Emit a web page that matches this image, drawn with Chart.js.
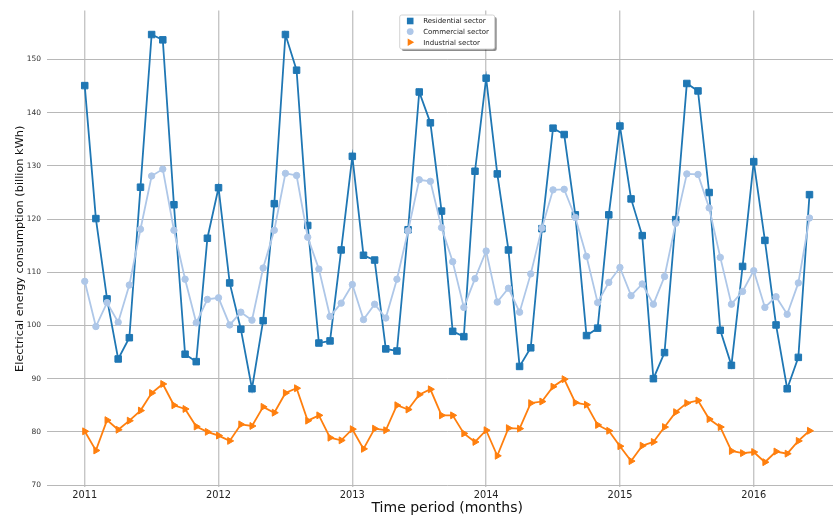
<!DOCTYPE html>
<html>
<head>
<meta charset="utf-8">
<script src="https://cdn.jsdelivr.net/npm/chart.js@4.4.1/dist/chart.umd.min.js"></script>
<style>
  html, body { margin: 0; padding: 0; background: #fff; overflow: hidden; }
  #wrap { width: 833px; height: 519px; overflow: hidden; }
</style>
</head>
<body>
<div id="wrap"><canvas id="line-chart" width="853" height="519"></canvas></div>
<script>
// monthly periods, Jan 2011 .. Jun 2016
const months = [
  '2011-01','2011-02','2011-03','2011-04','2011-05','2011-06','2011-07','2011-08','2011-09','2011-10','2011-11','2011-12',
  '2012-01','2012-02','2012-03','2012-04','2012-05','2012-06','2012-07','2012-08','2012-09','2012-10','2012-11','2012-12',
  '2013-01','2013-02','2013-03','2013-04','2013-05','2013-06','2013-07','2013-08','2013-09','2013-10','2013-11','2013-12',
  '2014-01','2014-02','2014-03','2014-04','2014-05','2014-06','2014-07','2014-08','2014-09','2014-10','2014-11','2014-12',
  '2015-01','2015-02','2015-03','2015-04','2015-05','2015-06','2015-07','2015-08','2015-09','2015-10','2015-11','2015-12',
  '2016-01','2016-02','2016-03','2016-04','2016-05','2016-06'
];

const residential = [
  145.1, 120.1, 105.0, 93.7, 97.7, 126.0, 154.7, 153.7, 122.7, 94.6, 93.2, 116.4,
  125.9, 108.0, 99.3, 88.1, 100.9, 122.9, 154.7, 148.0, 118.8, 96.7, 97.1, 114.2,
  131.8, 113.2, 112.3, 95.6, 95.2, 118.0, 143.9, 138.1, 121.5, 98.9, 97.9, 129.0,
  146.5, 128.5, 114.2, 92.3, 95.8, 118.2, 137.1, 135.9, 120.8, 98.1, 99.5, 120.8,
  137.5, 123.8, 116.9, 90.0, 94.9, 119.9, 145.5, 144.1, 125.0, 99.1, 92.5, 111.1,
  130.8, 116.0, 100.1, 88.1, 94.0, 124.6
];

const commercial = [
  108.3, 99.8, 104.3, 100.6, 107.6, 118.1, 128.1, 129.4, 117.9, 108.7, 100.5, 104.9,
  105.2, 100.1, 102.5, 101.0, 110.8, 117.9, 128.6, 128.2, 116.6, 110.6, 101.7, 104.2,
  107.7, 101.1, 104.0, 101.4, 108.7, 117.8, 127.4, 127.1, 118.4, 112.0, 103.4, 108.8,
  114.0, 104.4, 107.0, 102.5, 109.7, 118.3, 125.5, 125.6, 120.3, 113.0, 104.3, 108.1,
  110.9, 105.6, 107.8, 104.0, 109.2, 119.2, 128.5, 128.4, 122.1, 112.8, 104.0, 106.4,
  110.3, 103.4, 105.4, 102.1, 108.0, 120.2
];

const industrial = [
  80.1, 76.5, 82.2, 80.4, 82.1, 84.0, 87.3, 89.0, 85.0, 84.3, 81.0, 80.0,
  79.3, 78.3, 81.4, 81.1, 84.7, 83.6, 87.3, 88.2, 82.1, 83.1, 78.9, 78.4,
  80.5, 76.8, 80.6, 80.3, 85.0, 84.2, 87.0, 88.0, 83.1, 83.1, 79.7, 78.1,
  80.3, 75.5, 80.7, 80.6, 85.4, 85.7, 88.5, 89.9, 85.5, 85.1, 81.3, 80.2,
  77.3, 74.5, 77.4, 78.1, 80.9, 83.7, 85.4, 85.9, 82.4, 80.9, 76.4, 76.0,
  76.2, 74.3, 76.3, 75.9, 78.3, 80.2
];

const yearTicks = [2011, 2012, 2013, 2014, 2015, 2016];
const valueTicks = [70, 80, 90, 100, 110, 120, 130, 140, 150];

const FONT = "'DejaVu Sans', sans-serif";

// month label -> decimal year for the linear time axis
function toX(m) {
  var p = m.split('-');
  return Number(p[0]) + (Number(p[1]) - 1) / 12;
}
function series(values) {
  return values.map(function (v, i) { return { x: toX(months[i]), y: v }; });
}

// legend drawn inside the plot, matplotlib style box with shadow
const boxLegend = {
  id: 'boxLegend',
  afterDatasetsDraw: function (chart) {
    var ctx = chart.ctx, area = chart.chartArea;
    var w = 95, h = 34;
    var x = (area.left + area.right) / 2 - w / 2, y = area.top + 4.5;
    ctx.save();
    ctx.fillStyle = 'rgba(0,0,0,0.45)';
    roundRect(ctx, x + 2, y + 2, w, h, 2); ctx.fill();
    ctx.fillStyle = '#fff';
    ctx.strokeStyle = '#d4d4d4';
    ctx.lineWidth = 1;
    roundRect(ctx, x, y, w, h, 2); ctx.fill(); ctx.stroke();
    ctx.font = '7px ' + FONT;
    ctx.textBaseline = 'middle';
    chart.data.datasets.forEach(function (ds, i) {
      var cy = y + 6 + i * 10.6, cx = x + 10.5;
      ctx.fillStyle = ds.backgroundColor;
      ctx.beginPath();
      if (ds.pointStyle === 'rect') {
        ctx.rect(cx - 3.3, cy - 3.3, 6.6, 6.6);
      } else if (ds.pointStyle === 'circle') {
        ctx.arc(cx, cy, 3.4, 0, Math.PI * 2);
      } else {
        ctx.moveTo(cx + 4, cy);
        ctx.lineTo(cx - 2.5, cy - 3.8);
        ctx.lineTo(cx - 2.5, cy + 3.8);
        ctx.closePath();
      }
      ctx.fill();
      ctx.fillStyle = '#222';
      ctx.fillText(ds.label, x + 23.5, cy + 0.5);
    });
    ctx.restore();
  }
};
function roundRect(ctx, x, y, w, h, r) {
  ctx.beginPath();
  ctx.moveTo(x + r, y);
  ctx.lineTo(x + w - r, y); ctx.arcTo(x + w, y, x + w, y + r, r);
  ctx.lineTo(x + w, y + h - r); ctx.arcTo(x + w, y + h, x + w - r, y + h, r);
  ctx.lineTo(x + r, y + h); ctx.arcTo(x, y + h, x, y + h - r, r);
  ctx.lineTo(x, y + r); ctx.arcTo(x, y, x + r, y, r);
  ctx.closePath();
}

new Chart(document.getElementById('line-chart'), {
  type: 'line',
  data: {
    datasets: [{
        label: 'Residential sector',
        data: series(residential),
        borderColor: '#1f77b4',
        backgroundColor: '#1f77b4',
        borderWidth: 1.8,
        pointStyle: 'rect',
        pointRadius: 4.6,
        pointBorderWidth: 1,
        order: 2
      }, {
        label: 'Commercial sector',
        data: series(commercial),
        borderColor: '#aec7e8',
        backgroundColor: '#aec7e8',
        borderWidth: 1.8,
        pointStyle: 'circle',
        pointRadius: 3.2,
        pointBorderWidth: 1,
        order: 1
      }, {
        label: 'Industrial sector',
        data: series(industrial),
        borderColor: '#ff7f0e',
        backgroundColor: '#ff7f0e',
        borderWidth: 1.8,
        pointStyle: 'triangle',
        pointRotation: 90,
        pointRadius: 4,
        pointBorderWidth: 1,
        order: 0
      }
    ]
  },
  options: {
    responsive: false,
    animation: false,
    devicePixelRatio: 1,
    layout: { padding: { top: 8, right: 0, bottom: 0, left: 0 } },
    elements: { line: { tension: 0, fill: false } },
    plugins: {
      legend: { display: false },
      tooltip: { enabled: false }
    },
    scales: {
      x: {
        type: 'linear',
        min: 2010.718,
        max: 2016.70,
        afterBuildTicks: function (scale) {
          scale.ticks = yearTicks.map(function (v) { return { value: v }; });
        },
        afterFit: function (scale) { scale.height = 32; },
        grid: { color: '#c6c6c6', lineWidth: 1.4, drawTicks: false },
        border: { display: false },
        ticks: {
          padding: 3,
          maxRotation: 0,
          color: '#222',
          font: { family: FONT, size: 9.8 },
          callback: function (v) { return String(v); }
        },
        title: {
          display: true,
          text: 'Time period (months)',
          color: '#111',
          font: { family: FONT, size: 14 },
          padding: { top: 0, bottom: 2 }
        }
      },
      y: {
        min: 69.63,
        max: 159.22,
        afterBuildTicks: function (scale) {
          scale.ticks = valueTicks.map(function (v) { return { value: v }; });
        },
        afterFit: function (scale) { scale.width = 47; },
        grid: { color: '#b8b8b8', lineWidth: 1, drawTicks: false },
        border: { display: false },
        ticks: {
          padding: 6,
          color: '#333',
          font: { family: FONT, size: 7.5 }
        },
        title: {
          display: true,
          text: 'Electrical energy consumption (billion kWh)',
          color: '#111',
          font: { family: FONT, size: 11.3 },
          padding: { top: 13, bottom: 0 }
        }
      }
    }
  },
  plugins: [boxLegend]
});
</script>
</body>
</html>
